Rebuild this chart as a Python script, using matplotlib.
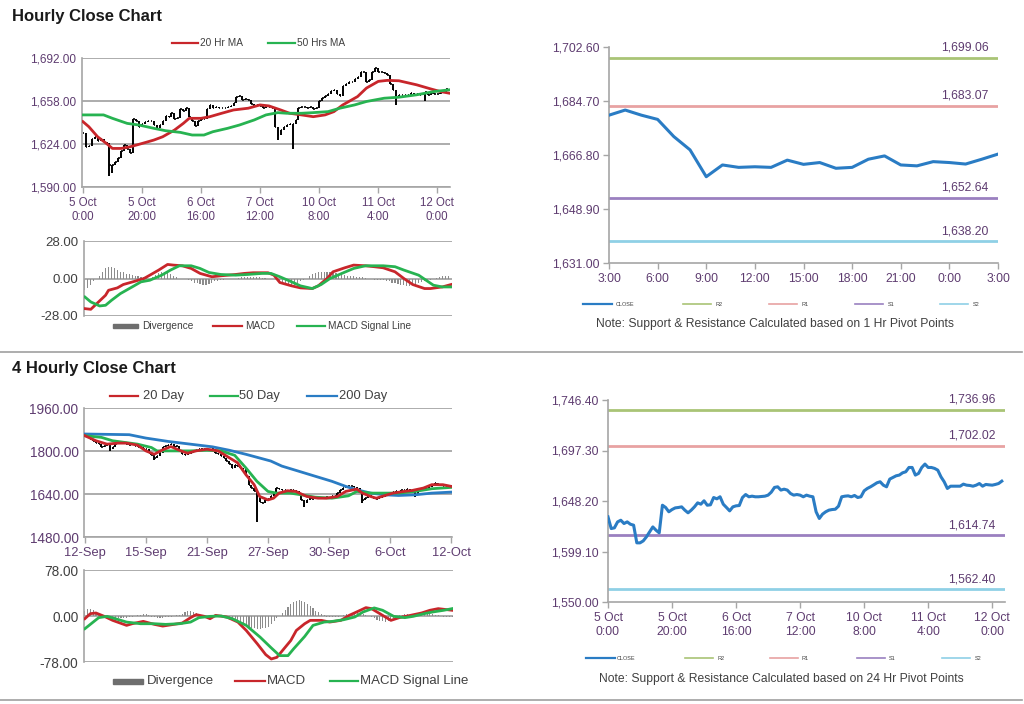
import matplotlib.pyplot as plt
from matplotlib.lines import Line2D
from matplotlib.patches import Rectangle
from matplotlib.ticker import FuncFormatter

plt.rcParams['font.family'] = ['Liberation Sans', 'DejaVu Sans']

# ---------------- data: hourly (5 Oct 0:00 .. 12 Oct 3:00) ----------------
h_close = [1632.8, 1621.4, 1622.1, 1627.9, 1629.5, 1626.3, 1627.9, 1625.6, 1624.7, 1607.5,
           1607.5, 1609.4, 1613.3, 1618.2, 1623.0, 1619.8, 1617.2, 1644.1, 1641.9, 1637.7,
           1639.9, 1641.5, 1641.9, 1642.5, 1639.3, 1636.7, 1639.3, 1642.5, 1646.4, 1645.1,
           1648.4, 1644.1, 1644.5, 1651.6, 1650.3, 1652.3, 1645.1, 1641.9, 1638.6, 1642.5,
           1643.5, 1643.8, 1651.6, 1654.5, 1652.3, 1652.9, 1652.3, 1652.3, 1652.6, 1652.9,
           1653.9, 1656.8, 1661.4, 1662.0, 1658.8, 1659.7, 1658.8, 1655.5, 1653.9, 1654.5,
           1653.9, 1652.3, 1653.9, 1652.9, 1652.3, 1637.7, 1631.2, 1635.4, 1637.7, 1639.3,
           1639.9, 1640.2, 1643.2, 1652.3, 1652.9, 1653.2, 1652.3, 1653.6, 1651.6, 1652.3,
           1658.1, 1660.4, 1662.0, 1663.9, 1665.9, 1666.9, 1663.6, 1662.0, 1669.5, 1671.1,
           1672.7, 1673.4, 1675.6, 1676.6, 1680.8, 1680.8, 1673.4, 1675.0, 1680.8, 1684.1,
           1680.8, 1680.8, 1679.9, 1678.2, 1671.7, 1666.9, 1660.4, 1662.6, 1662.6, 1662.6,
           1662.6, 1664.6, 1663.6, 1663.3, 1662.6, 1663.6, 1665.2, 1662.6, 1664.3, 1663.9,
           1663.6, 1664.3, 1665.2, 1667.5]
h_low_wicks = {9: 1599.0, 10: 1601.0, 66: 1627.0, 71: 1620.0, 106: 1655.0, 116: 1658.0}

ma20h_x = [0, 2, 5, 8, 10, 13, 16, 20, 24, 27, 31, 34, 36, 40, 43, 47, 51, 56, 60, 63,
           67, 70, 74, 78, 82, 85, 88, 93, 96, 100, 103, 107, 113, 118, 121, 124]
ma20h = [1641.7, 1637.7, 1629.7, 1624.4, 1620.5, 1620.5, 1621.8, 1624.4, 1627.1, 1629.7,
         1635.0, 1640.3, 1644.3, 1644.3, 1645.6, 1648.3, 1650.9, 1652.3, 1654.9, 1654.1,
         1650.9, 1648.3, 1647.0, 1645.6, 1647.0, 1649.6, 1654.9, 1661.5, 1668.2, 1673.5,
         1674.3, 1674.0, 1670.8, 1667.4, 1665.5, 1664.2]
ma50h_x = [0, 7, 10, 15, 19, 24, 28, 33, 37, 41, 44, 49, 53, 58, 62, 66, 69, 74, 78, 83,
           87, 92, 96, 102, 107, 113, 119, 124]
ma50h = [1647.0, 1647.0, 1644.3, 1640.3, 1639.0, 1636.4, 1634.5, 1633.2, 1631.1, 1631.1,
         1633.7, 1636.4, 1639.0, 1643.0, 1647.0, 1648.8, 1648.3, 1648.3, 1648.8, 1649.6,
         1652.3, 1654.9, 1657.6, 1660.2, 1661.0, 1662.9, 1665.5, 1666.8]

macd_h_x = [0, 2, 4, 7, 8, 11, 13, 17, 20, 22, 25, 28, 30, 33, 36, 39, 43, 46, 51, 54,
            57, 62, 64, 66, 70, 73, 77, 79, 82, 84, 88, 91, 95, 98, 101, 105, 108, 111, 115, 117,
            121, 124]
macd_h = [-22.5, -23, -18.8, -12.5, -8.8, -7, -4.5, -2, 0, 2.5,
          6.3, 10.5, 10, 9.5, 7.5, 3.8, 1.3, 2, 3, 3.8,
          4.3, 4.3, 2.5, -3, -5.5, -7, -7.5, -5.5, 0, 5,
          8, 10, 9.5, 8.8, 8, 5, 0, -4.5, -7.5, -7.5,
          -6.3, -4.5]
sig_h_x = [0, 2, 5, 7, 9, 12, 16, 19, 22, 26, 29, 32, 36, 39, 42, 46, 51, 55, 60, 63,
           66, 70, 73, 77, 80, 83, 87, 91, 95, 98, 101, 105, 108, 113, 116, 118, 121, 124]
sig_h = [-13.8, -17.5, -20.5, -20, -16.3, -11.3, -6.3, -2.5, -1.3, 2.5,
         6.3, 9.5, 9.5, 7.5, 4.5, 3, 2.5, 3, 3.8, 3.8,
         1.3, -2.5, -5.5, -7.5, -4.5, 0, 3.8, 7.5, 9.5, 9.5,
         9.5, 8.8, 6.3, 2.5, -2, -5, -6.3, -6.3]
div_h = [-8.5, -7, -5, -2, 0, 2, 5, 8, 8.8, 8.5, 7.5, 6, 5, 4.5, 3.5, 3, 2.5, 2, 1.5, 1.2,
         1, 0.5, 0, 1, 2.5, 4, 5, 4.5, 4, 3, 2, 1, 0, 0, -0.5, -1, -2, -3, -3.5, -4,
         -4.5, -4.5, -4, -3, -2, -1.5, -1, -1, -0.5, -0.5, 0, 0, 0.5, 1, 1, 1, 1, 1, 1, 1,
         0.5, 0.5, 0, 0, 0, -1, -2.5, -3.5, -4.5, -5, -5, -4.5, -3.5, -2, -1, 0, 1.5, 3, 4, 4.5,
         5, 5, 5, 5, 4.5, 4, 3.5, 3, 2.5, 2, 2, 1.5, 1, 1, 1, 0.5, 0, -0.5, -1, -1,
         -1, -1, -1.5, -2, -3, -3.5, -4, -4.5, -5, -5.5, -5.5, -5, -4.5, -3.5, -2.5, -2, -1.5, -1, 0, 0.5,
         1, 1.5, 1.5, 1.5]
h_ticks = [0, 20, 40, 60, 80, 100, 120]
h_labels = ['5 Oct\n0:00', '5 Oct\n20:00', '6 Oct\n16:00', '7 Oct\n12:00',
            '10 Oct\n8:00', '11 Oct\n4:00', '12 Oct\n0:00']

# 1 hr pivot chart (11 Oct 3:00 .. 12 Oct 3:00)
p1_close = [1680.0, 1681.7, 1680.0, 1678.6, 1672.9, 1668.5, 1659.6, 1663.5, 1662.7, 1662.9,
            1662.7, 1665.1, 1663.7, 1664.3, 1662.4, 1662.7, 1665.4, 1666.5, 1663.5, 1663.2,
            1664.6, 1664.3, 1663.8, 1665.4, 1667.1]
p1_ticks = [0, 3, 6, 9, 12, 15, 18, 21, 24]
p1_labels = ['3:00', '6:00', '9:00', '12:00', '15:00', '18:00', '21:00', '0:00', '3:00']
p1_levels = [1699.06, 1683.07, 1652.64, 1638.20]
p24_levels = [1736.96, 1702.02, 1614.74, 1562.40]
level_names = ['R2', 'R1', 'S1', 'S2']

# ---------------- data: 4 hourly (12 Sep .. 12 Oct) ----------------
c4 = [1854.4, 1850.6, 1844.4, 1838.1, 1829.3, 1825.5, 1813.1, 1819.3, 1821.7, 1809.2,
      1816.7, 1825.5, 1831.8, 1834.3, 1829.3, 1825.5, 1821.7, 1825.5, 1819.3, 1816.7,
      1813.1, 1806.7, 1809.2, 1791.6, 1784.0, 1775.2, 1781.5, 1794.1, 1813.1, 1819.3,
      1821.7, 1825.5, 1816.7, 1819.3, 1800.4, 1787.8, 1784.0, 1791.6, 1791.6, 1796.6,
      1804.1, 1806.7, 1809.2, 1809.2, 1806.7, 1804.1, 1809.2, 1794.1, 1787.8, 1781.5,
      1775.2, 1762.7, 1750.1, 1737.5, 1746.3, 1743.8, 1737.5, 1731.2, 1706.1, 1674.7,
      1662.1, 1649.6, 1630.7, 1611.8, 1605.6, 1618.1, 1620.6, 1630.7, 1643.3, 1662.1,
      1658.1, 1653.3, 1655.8, 1649.6, 1653.3, 1655.8, 1649.6, 1643.3, 1618.1, 1605.6,
      1618.1, 1624.4, 1620.6, 1624.4, 1628.2, 1624.4, 1626.9, 1628.2, 1624.4, 1630.7,
      1633.2, 1643.3, 1655.8, 1662.1, 1665.9, 1668.4, 1670.9, 1665.9, 1662.1, 1649.6,
      1618.1, 1624.4, 1633.2, 1630.7, 1624.4, 1620.6, 1624.4, 1628.2, 1630.7, 1637.0,
      1643.3, 1645.8, 1649.6, 1645.8, 1653.3, 1655.8, 1658.3, 1655.8, 1649.6, 1640.7,
      1649.6, 1658.3, 1662.1, 1658.3, 1665.9, 1674.7, 1681.0, 1678.5, 1674.7, 1670.9,
      1668.4, 1670.9, 1668.4]
c4_low_wicks = {9: 1800.0, 25: 1768.0, 62: 1534.0, 79: 1593.0, 100: 1605.0, 119: 1630.0}

ma20d_x = [0, 4, 8, 12, 15, 19, 22, 25, 28, 31, 34, 37, 40, 44, 48, 51, 55, 58, 61, 63,
           66, 68, 70, 73, 76, 80, 84, 87, 91, 94, 98, 100, 103, 105, 107, 111, 115, 118, 122, 125,
           129, 132]
ma20d = [1856.9, 1838.1, 1825.5, 1829.3, 1829.3, 1821.7, 1800.4, 1787.8, 1804.1, 1816.7,
         1802.9, 1791.6, 1800.4, 1806.7, 1800.4, 1781.5, 1756.4, 1712.4, 1674.7, 1630.7,
         1618.1, 1624.4, 1643.3, 1652.1, 1649.6, 1630.7, 1624.4, 1624.4, 1630.7, 1649.6,
         1658.3, 1643.3, 1630.7, 1624.4, 1630.7, 1643.3, 1649.6, 1653.3, 1662.1, 1674.7,
         1674.7, 1668.4]
ma50d_x = [0, 6, 10, 19, 24, 26, 31, 38, 44, 49, 54, 58, 62, 66, 69, 74, 78, 83, 89, 95,
           98, 103, 113, 119, 125, 132]
ma50d = [1856.9, 1850.6, 1838.1, 1825.5, 1812.9, 1800.4, 1800.4, 1800.4, 1802.9, 1800.4,
         1784.0, 1737.5, 1687.3, 1649.5, 1643.3, 1643.3, 1637.0, 1628.2, 1624.4, 1633.2,
         1649.6, 1643.3, 1643.3, 1649.6, 1659.6, 1664.6]
ma200d_x = [0, 16, 22, 30, 38, 46, 52, 58, 67, 71, 77, 83, 89, 94, 98, 103, 108, 113, 119, 125,
            132]
ma200d = [1863.2, 1860.7, 1848.1, 1835.6, 1825.5, 1815.5, 1802.9, 1787.8, 1762.7, 1743.8,
          1725.0, 1706.1, 1687.3, 1668.4, 1655.8, 1643.3, 1637.0, 1634.5, 1637.0, 1643.3,
          1647.0]

macd4_x = [0, 2, 4, 7, 10, 15, 17, 21, 25, 28, 32, 35, 38, 40, 43, 45, 47, 51, 55, 58,
           62, 65, 67, 69, 71, 74, 76, 79, 81, 85, 88, 92, 95, 99, 101, 103, 106, 110, 113, 117,
           121, 124, 127, 130, 132]
macd4 = [-4.6, 4.0, 5.1, -0.6, -7.4, -15.9, -13.1, -9.1, -14.2, -17.1,
         -14.2, -11.9, -2.8, 2.3, -0.6, -4.6, 1.1, -1.7, -10.3, -24.5,
         -47.3, -65.5, -72.9, -70.1, -58.7, -41.6, -24.5, -13.1, -7.4, -7.4,
         -10.3, -7.4, 1.1, 9.7, 14.2, 12.5, 4.0, -7.4, -2.8, 1.1,
         5.1, 9.7, 12.5, 10.8, 9.7]
sig4_x = [0, 3, 5, 8, 11, 15, 20, 25, 29, 34, 38, 41, 45, 49, 53, 58, 63, 67, 70, 73,
          75, 79, 82, 86, 89, 93, 97, 100, 104, 107, 111, 115, 118, 122, 125, 129, 132]
sig4 = [-21.6, -10.3, -2.8, -0.6, -4.6, -10.3, -13.1, -13.1, -14.2, -13.1,
        -10.3, -2.8, -0.6, 0, -4.6, -15.9, -35.9, -54.1, -67.2, -67.2,
        -55.8, -34.7, -15.9, -10.3, -9.1, -6.3, -1.7, 6.8, 13.7, 9.7,
        -0.6, -2.8, -0.6, 4.0, 6.8, 9.7, 12.5]
div4 = [8, 12, 12, 10, 6, 3, 0, -1, -2, -3, -3, -3.5, -4, -3, -3, -3, -2, -1, 0, 1,
        2, 3, 3, 1, -1, -2, -3, -3, -3, -2.5, -2, -1, 0, 1, 2, 4, 6, 8, 8, 7,
        5, 3, 1, 0, -1, -2, 0, 1, 0, -1, -2, -3, -5, -7, -9, -11, -13, -15, -17, -19,
        -20, -21, -22, -22, -21, -20, -18, -14, -9, -4, 0, 5, 10, 15, 20, 24, 26, 27, 26, 24,
        21, 17, 13, 9, 6, 3, 1, -1, -2, -2, -2, -1, 0, 2, 3, 4, 5, 6, 6, 5,
        4, 2, 0, -2, -4, -6, -8, -9, -10, -9, -7, -4, -1, 1, 2, 3, 3, 4, 4, 4,
        5, 5, 5, 4, 4, 3, 2, 1, 0, -1, -2, -2, -2]
d_ticks = [0, 22, 44, 66, 88, 110, 132]
d_labels = ['12-Sep', '15-Sep', '21-Sep', '27-Sep', '30-Sep', '6-Oct', '12-Oct']

# ---------------- styling helpers ----------------
W, H = 1024, 704
RED, GREEN, BLUE, GREY = '#c8262b', '#27b351', '#2a7cc4', '#8c8c8c'
PURPLE_TXT, DARK_TXT, AX_GREY = '#5e3c70', '#404040', '#a6a6a6'
LEVEL_COLORS = ['#a9c476', '#e8a2a2', '#9a80c0', '#8fd0e6']


def fx(px):
    return px / W


def fy(py):
    return 1 - py / H


def box(x0, y0, x1, y1):
    return [fx(x0), fy(y1), (x1 - x0) / W, (y1 - y0) / H]


def base_style(ax, grid):
    for s in ['top', 'right']:
        ax.spines[s].set_visible(False)
    for s in ['left', 'bottom']:
        ax.spines[s].set_color(AX_GREY)
        ax.spines[s].set_linewidth(1.2)
    ax.tick_params(color=AX_GREY, length=4, width=1)
    if grid:
        ax.yaxis.grid(True, color=AX_GREY, lw=1.3)
        ax.set_axisbelow(True)


def legend_line(x0, x1, y, color, lw, text, tx, fs, tcolor=DARK_TXT):
    fig.add_artist(Line2D([fx(x0), fx(x1)], [fy(y), fy(y)], color=color, lw=lw,
                          transform=fig.transFigure))
    fig.text(fx(tx), fy(y), text, fontsize=fs, color=tcolor, ha='left', va='center')


def legend_block(x0, x1, y, h, text, tx, fs):
    fig.add_artist(Rectangle((fx(x0), fy(y + h / 2)), (x1 - x0) / W, h / H,
                             color='#6e6e6e', transform=fig.transFigure))
    fig.text(fx(tx), fy(y), text, fontsize=fs, color=DARK_TXT, ha='left', va='center')


def draw_bars(ax, close, wicks):
    # OHLC-style bars: open taken as the previous close
    xs = list(range(len(close)))
    opens = [close[0]] + close[:-1]
    lo = [min(o, c) for o, c in zip(opens, close)]
    hi = [max(o, c) for o, c in zip(opens, close)]
    for i, v in wicks.items():
        lo[i] = min(lo[i], v)
    ax.vlines(xs, lo, hi, color='black', lw=1.4, zorder=2)
    ax.hlines(close, xs, [x + 0.5 for x in xs], color='black', lw=1.2, zorder=2)


fig = plt.figure(figsize=(10.24, 7.04), dpi=100)

# titles and separators
fig.text(fx(12), fy(16), 'Hourly Close Chart', fontsize=12, fontweight='bold', color='#1a1a1a',
         ha='left', va='center')
fig.text(fx(12), fy(368), '4 Hourly Close Chart', fontsize=12, fontweight='bold', color='#1a1a1a',
         ha='left', va='center')
for yy in [352, 700]:
    fig.add_artist(Line2D([0, fx(1022)], [fy(yy), fy(yy)], color='#a0a0a0', lw=1.2,
                          transform=fig.transFigure))

comma_fmt = FuncFormatter(lambda v, p: f'{v:,.2f}')
plain_fmt = FuncFormatter(lambda v, p: f'{v:.2f}')

# ---------------- hourly price ----------------
ax1 = fig.add_axes(box(82, 58, 450, 187))
base_style(ax1, True)
draw_bars(ax1, h_close, h_low_wicks)
ax1.plot(ma20h_x, ma20h, color=RED, lw=2, zorder=3)
ax1.plot(ma50h_x, ma50h, color=GREEN, lw=2, zorder=3)
ax1.set_xlim(-0.3, 124.3)
ax1.set_ylim(1590, 1692)
ax1.set_yticks([1590, 1624, 1658, 1692])
ax1.yaxis.set_major_formatter(comma_fmt)
ax1.set_xticks(h_ticks)
ax1.set_xticklabels(h_labels)
ax1.tick_params(axis='y', labelsize=8.5, labelcolor=PURPLE_TXT, length=0, pad=4)
ax1.tick_params(axis='x', labelsize=8.3, labelcolor=PURPLE_TXT, pad=3)
legend_line(172, 198, 43, RED, 1.6, '20 Hr MA', 200, 7.3)
legend_line(268, 295, 43, GREEN, 1.6, '50 Hrs MA', 297, 7.3)

# ---------------- hourly MACD ----------------
ax2 = fig.add_axes(box(84, 241, 452, 316))
base_style(ax2, True)
ax2.spines['bottom'].set_visible(False)
ax2.bar(range(len(div_h)), div_h, width=0.4, color=GREY, zorder=2)
ax2.plot(macd_h_x, macd_h, color=RED, lw=2, zorder=3)
ax2.plot(sig_h_x, sig_h, color=GREEN, lw=2, zorder=3)
ax2.set_xlim(-0.3, 124.3)
ax2.set_ylim(-28, 28)
ax2.set_yticks([-28, 0, 28])
ax2.yaxis.set_major_formatter(plain_fmt)
ax2.set_xticks([])
ax2.tick_params(axis='y', labelsize=9.5, labelcolor=DARK_TXT, length=0, pad=4)
legend_block(113, 138, 326, 4, 'Divergence', 142, 7.3)
legend_line(213, 242, 326, RED, 1.6, 'MACD', 245, 7.3)
legend_line(297, 325, 326, GREEN, 1.6, 'MACD Signal Line', 328, 7.3)


# ---------------- pivot charts ----------------
def pivot_chart(rect, xs, ys, levels, ylim, yticks, xticks, xlabels, xlim):
    ax = fig.add_axes(rect)
    base_style(ax, False)
    for lvl, col in zip(levels, LEVEL_COLORS):
        ax.axhline(lvl, color=col, lw=2, zorder=2)
        ax.annotate(f'{lvl:,.2f}', xy=(1, lvl), xycoords=('axes fraction', 'data'),
                    xytext=(-7, 3), textcoords='offset points', ha='right', va='bottom',
                    fontsize=8.7, color=PURPLE_TXT)
    ax.plot(xs, ys, color=BLUE, lw=2.2, zorder=3)
    ax.set_ylim(*ylim)
    ax.set_yticks(yticks)
    ax.yaxis.set_major_formatter(comma_fmt)
    ax.set_xlim(*xlim)
    ax.set_xticks(xticks)
    ax.set_xticklabels(xlabels)
    ax.tick_params(axis='both', labelsize=8.7, labelcolor=PURPLE_TXT)
    ax.tick_params(axis='y', pad=3)
    return ax


ax3 = pivot_chart(box(609, 47, 998, 263), range(len(p1_close)), p1_close, p1_levels,
                  (1631.0, 1702.6), [1631.0, 1648.9, 1666.8, 1684.7, 1702.6],
                  p1_ticks, p1_labels, (0, 24))
ax6 = pivot_chart(box(608, 400, 1005, 602), range(len(h_close)), h_close, p24_levels,
                  (1550.0, 1746.4), [1550.0, 1599.1, 1648.2, 1697.3, 1746.4],
                  h_ticks, h_labels, (0, 124))

for ly, xs_line, xs_text in [(304, [583, 683, 769, 855, 940], [616, 715, 802, 888, 973]),
                             (658, [586, 685, 770, 857, 942], [617, 717, 802, 889, 975])]:
    legend_line(xs_line[0], xs_line[0] + 29, ly, BLUE, 1.6, 'CLOSE', xs_text[0], 4)
    for k, name in enumerate(level_names):
        legend_line(xs_line[k + 1], xs_line[k + 1] + 28, ly, LEVEL_COLORS[k], 1.2,
                    name, xs_text[k + 1], 4)

fig.text(fx(775), fy(324), 'Note: Support & Resistance Calculated based on 1 Hr Pivot Points',
         fontsize=8.7, color=DARK_TXT, ha='center', va='center')
fig.text(fx(781), fy(679), 'Note: Support & Resistance Calculated based on 24 Hr Pivot Points',
         fontsize=8.7, color=DARK_TXT, ha='center', va='center')

# ---------------- 4 hourly price ----------------
ax4 = fig.add_axes(box(84, 408, 452, 537))
base_style(ax4, True)
draw_bars(ax4, c4, c4_low_wicks)
ax4.plot(ma200d_x, ma200d, color=BLUE, lw=2, zorder=3)
ax4.plot(ma50d_x, ma50d, color=GREEN, lw=2, zorder=3)
ax4.plot(ma20d_x, ma20d, color=RED, lw=2, zorder=4)
ax4.set_xlim(-0.3, 132.3)
ax4.set_ylim(1480, 1960)
ax4.set_yticks([1480, 1640, 1800, 1960])
ax4.yaxis.set_major_formatter(plain_fmt)
ax4.set_xticks(d_ticks)
ax4.set_xticklabels(d_labels)
ax4.tick_params(axis='y', labelsize=9.8, labelcolor=PURPLE_TXT, length=0, pad=4)
ax4.tick_params(axis='x', labelsize=9.3, labelcolor=PURPLE_TXT, pad=3)
legend_line(110, 138, 396, RED, 1.6, '20 Day', 143, 9.3)
legend_line(210, 238, 396, GREEN, 1.6, '50 Day', 239, 9.3)
legend_line(307, 337, 396, BLUE, 1.6, '200 Day', 339, 9.3)

# ---------------- 4 hourly MACD ----------------
ax5 = fig.add_axes(box(84, 570, 453, 662))
base_style(ax5, True)
ax5.spines['bottom'].set_visible(False)
ax5.bar(range(len(div4)), div4, width=0.4, color=GREY, zorder=2)
ax5.plot(macd4_x, macd4, color=RED, lw=2, zorder=3)
ax5.plot(sig4_x, sig4, color=GREEN, lw=2, zorder=3)
ax5.set_xlim(-0.3, 132.3)
ax5.set_ylim(-78, 78)
ax5.set_yticks([-78, 0, 78])
ax5.yaxis.set_major_formatter(plain_fmt)
ax5.set_xticks([])
ax5.tick_params(axis='y', labelsize=9.8, labelcolor=DARK_TXT, length=0, pad=4)
legend_block(113, 143, 681, 5, 'Divergence', 147, 9.5)
legend_line(235, 265, 681, RED, 1.6, 'MACD', 267, 9.5)
legend_line(330, 358, 681, GREEN, 1.6, 'MACD Signal Line', 360, 9.5)

fig.savefig('out.png', dpi=100, facecolor='white')
